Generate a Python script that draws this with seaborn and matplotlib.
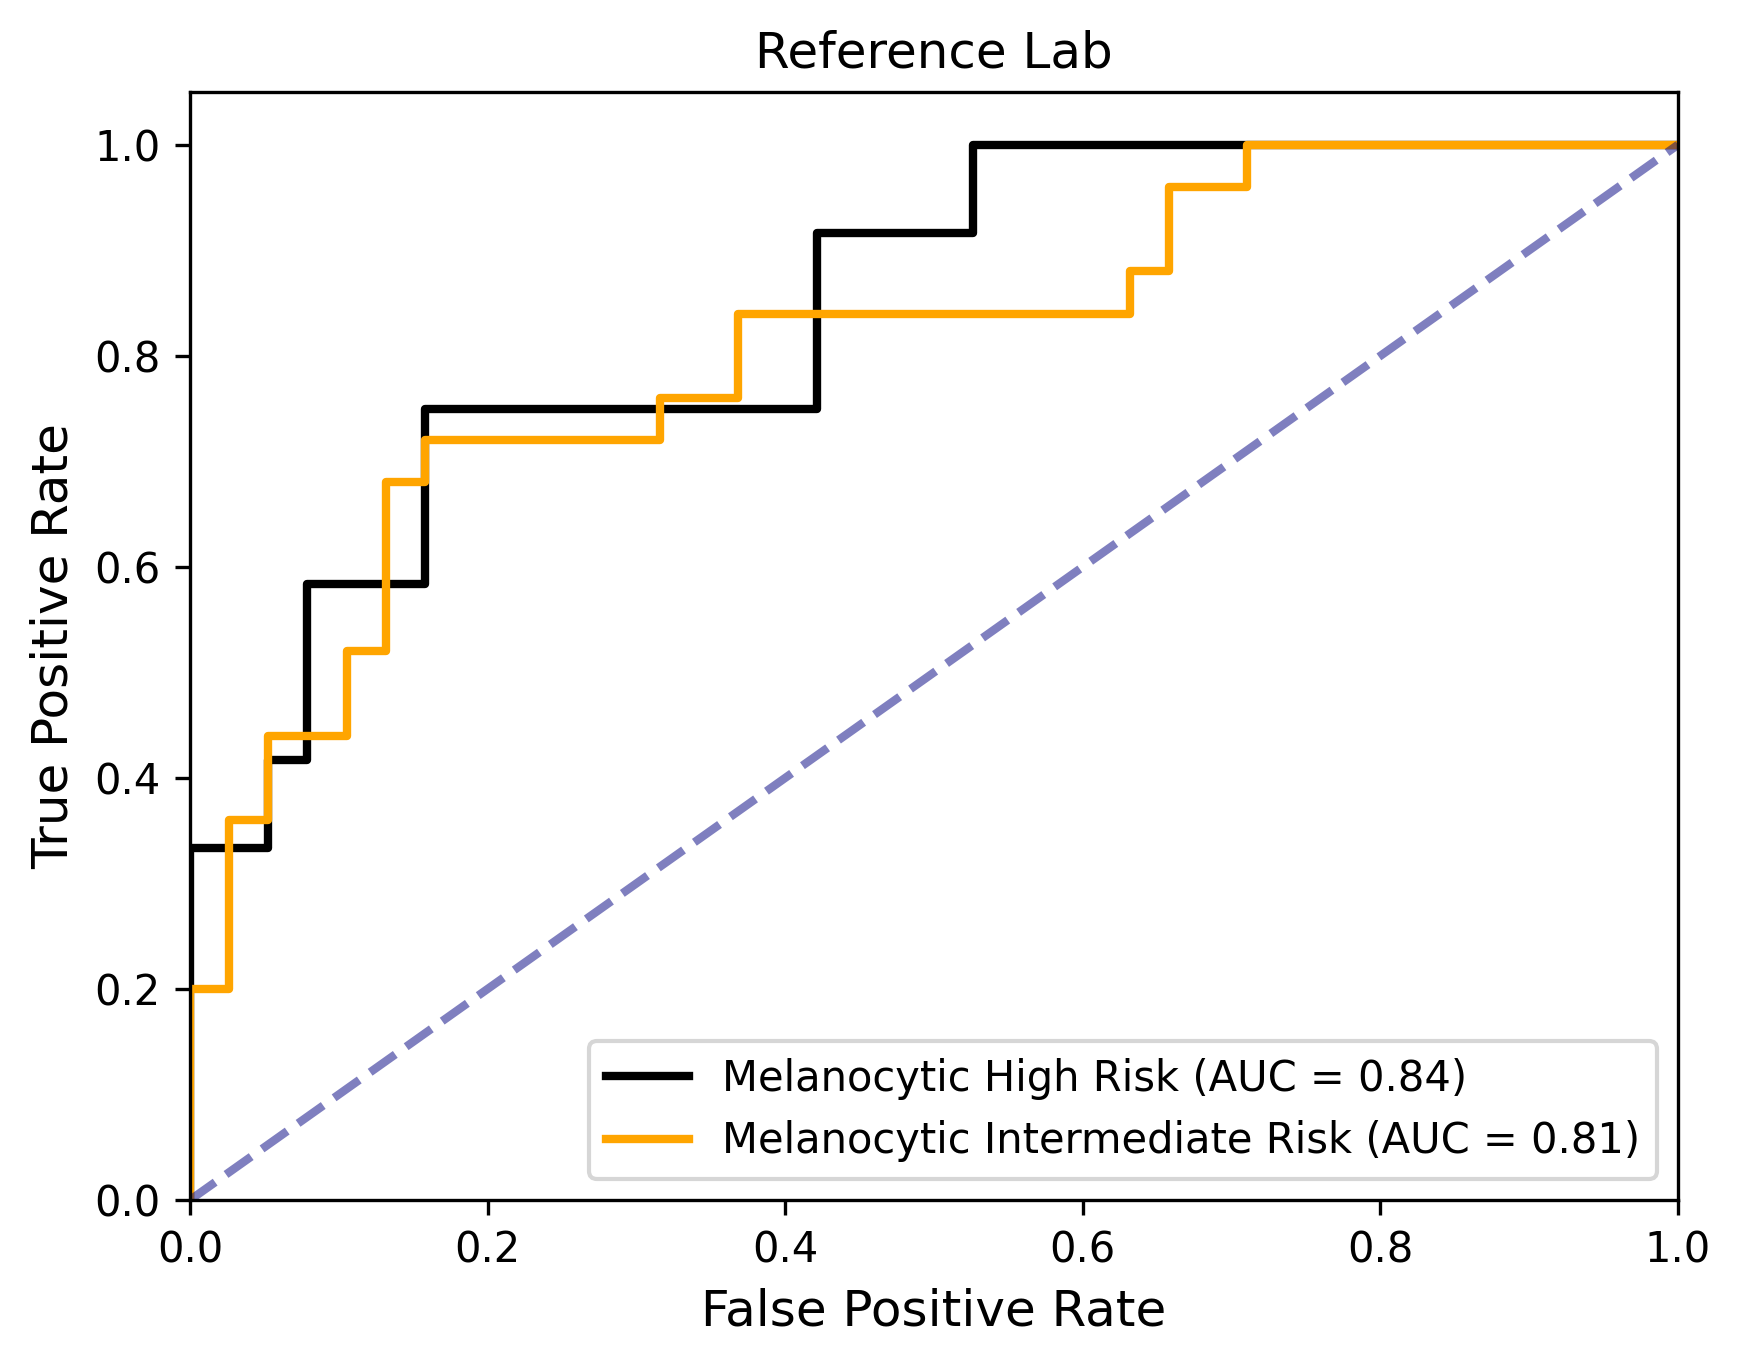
import numpy as np
import pandas as pd
import matplotlib
matplotlib.use("Agg")
import matplotlib.pyplot as plt
import seaborn as sns

# ROC curve vertices
fpr_high = [0.0, 0.0, 0.0526, 0.0526, 0.0789, 0.0789, 0.1579, 0.1579, 0.4211, 0.4211, 0.5263, 0.5263, 1.0]
tpr_high = [0.0, 0.3333, 0.3333, 0.4167, 0.4167, 0.5833, 0.5833, 0.75, 0.75, 0.9167, 0.9167, 1.0, 1.0]

fpr_inter = [0.0, 0.0, 0.0263, 0.0263, 0.0526, 0.0526, 0.1053, 0.1053, 0.1316, 0.1316, 0.1579, 0.1579,
             0.3158, 0.3158, 0.3684, 0.3684, 0.6316, 0.6316, 0.6579, 0.6579, 0.7105, 0.7105, 1.0]
tpr_inter = [0.0, 0.2, 0.2, 0.36, 0.36, 0.44, 0.44, 0.52, 0.52, 0.68, 0.68, 0.72,
             0.72, 0.76, 0.76, 0.84, 0.84, 0.88, 0.88, 0.96, 0.96, 1.0, 1.0]

labels = ["Melanocytic High Risk (AUC = 0.84)", "Melanocytic Intermediate Risk (AUC = 0.81)"]
colors = ["black", "orange"]
chance = [0.0, 1.0]

df_high = pd.DataFrame({"fpr": fpr_high, "tpr": tpr_high})
df_inter = pd.DataFrame({"fpr": fpr_inter, "tpr": tpr_inter})

fig = plt.figure(figsize=(1741 / 300, 1365 / 300), dpi=300)
ax = fig.add_axes([190 / 1741, 1 - 1200 / 1365, (1678 - 190) / 1741, (1200 - 92) / 1365])

sns.lineplot(data=df_high, x="fpr", y="tpr", sort=False, estimator=None,
             color=colors[0], lw=2, label=labels[0], ax=ax)
sns.lineplot(data=df_inter, x="fpr", y="tpr", sort=False, estimator=None,
             color=colors[1], lw=2, label=labels[1], ax=ax)
ax.plot(chance, chance, color="navy", lw=2, linestyle="--", alpha=0.5)

ax.set_xlim(0.0, 1.0)
ax.set_ylim(0.0, 1.05)
ax.set_xlabel("False Positive Rate", fontsize=12)
ax.set_ylabel("True Positive Rate", fontsize=12)
ax.set_title("Reference Lab", fontsize=12)
ax.legend(loc="lower right", fontsize=10)

fig.savefig("out.png", dpi=300)
